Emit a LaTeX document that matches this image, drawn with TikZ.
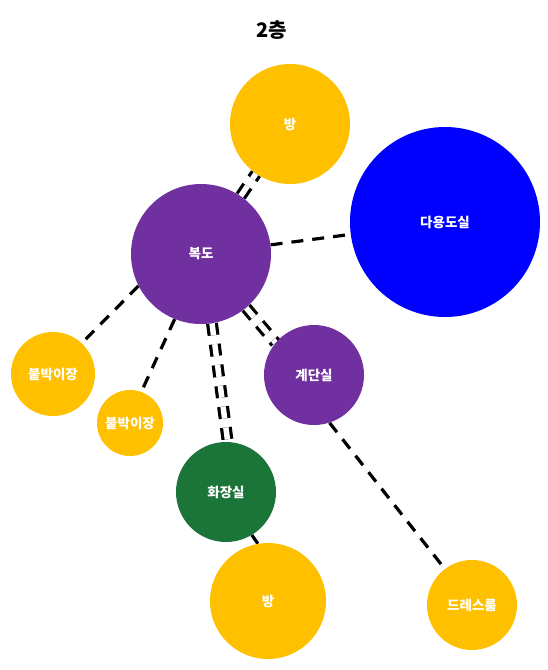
\documentclass[tikz,border=0pt]{standalone}
\usepackage{fontspec}
\setmainfont{Noto Sans CJK KR}
\usetikzlibrary{backgrounds}
\definecolor{cyellow}{HTML}{FFC000}
\definecolor{cpurple}{HTML}{7030A0}
\definecolor{cblue}{HTML}{0000FF}
\definecolor{cgreen}{HTML}{1B7538}
\begin{document}
\begin{tikzpicture}[x=1pt,y=-1pt,
  room/.style={circle, inner sep=0pt, text=white, font=\fontsize{13.5}{15}\selectfont\bfseries},
  conn/.style={line width=3.2pt, dash pattern=on 12pt off 9pt},
  dbl/.style={conn, double=white, double distance=5.5pt}]
\useasboundingbox (0,0) rectangle (547,670);
\node[font=\fontsize{20}{24}\selectfont\bfseries] (title) at (272,30) {2층};
\node[room, fill=cyellow, minimum size=120pt] (bang1) at (290,124) {방};
\node[room, fill=cblue, minimum size=190pt] (dayong) at (445,222) {다용도실};
\node[room, fill=cpurple, minimum size=140pt] (bokdo) at (201,254) {복도};
\node[room, fill=cyellow, minimum size=84pt] (bul1) at (53,374) {붙박이장};
\node[room, fill=cyellow, minimum size=66pt] (bul2) at (130,423) {붙박이장};
\node[room, fill=cpurple, minimum size=100pt] (gyedan) at (314,375) {계단실};
\node[room, fill=cgreen, minimum size=100pt] (hwa) at (226,492) {화장실};
\node[room, fill=cyellow, minimum size=116pt] (bang2) at (268,601) {방};
\node[room, fill=cyellow, minimum size=90pt] (dress) at (472,605) {드레스룸};
\begin{scope}[on background layer]
\draw[dbl] (bokdo) -- (bang1);
\draw[conn] (bokdo) -- (dayong);
\draw[conn] (bokdo.207) -- (bul1.47);
\draw[conn] (bokdo.248) -- (bul2.70);
\draw[dbl] (bokdo.279) -- (hwa.88);
\draw[dbl] (bokdo.310) -- (gyedan.140);
\draw[conn] (gyedan.288) -- (dress.127);
\draw[conn] (hwa.301) -- (bang2.100);
\end{scope}
\end{tikzpicture}
\end{document}
